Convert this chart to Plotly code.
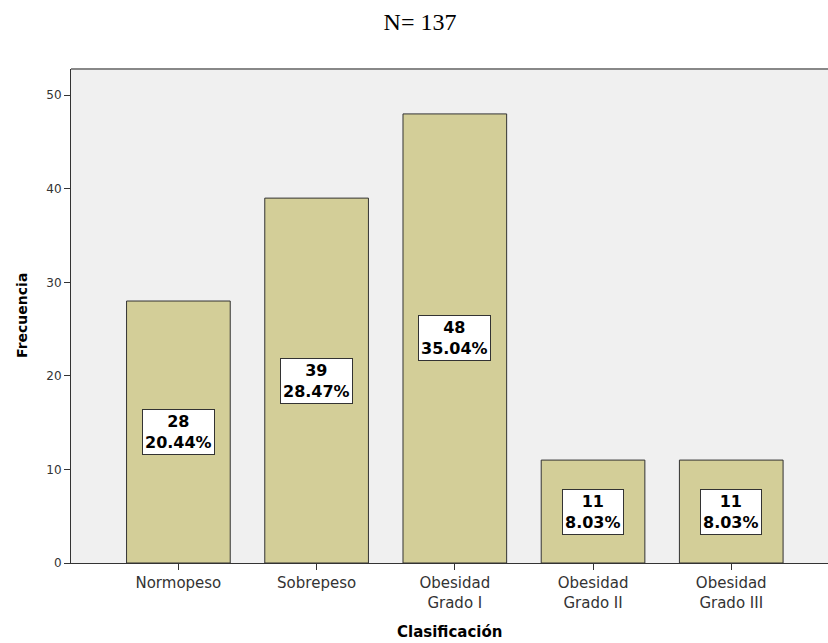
import plotly.graph_objects as go

# datos de clasificacion (N = 137)
categorias = ["Normopeso", "Sobrepeso", "Obesidad<br>Grado I", "Obesidad<br>Grado II", "Obesidad<br>Grado III"]
frecuencias = [28, 39, 48, 11, 11]
porcentajes = ["20.44%", "28.47%", "35.04%", "8.03%", "8.03%"]

fig = go.Figure()
fig.add_trace(go.Bar(
    x=categorias,
    y=frecuencias,
    width=0.75,
    marker=dict(color="#d3ce98", line=dict(color="#333333", width=1)),
    hoverinfo="skip",
))

# etiquetas en caja blanca a mitad de cada barra
for cat, f, p in zip(categorias, frecuencias, porcentajes):
    fig.add_annotation(
        x=cat, y=f / 2, xref="x", yref="y",
        text=f"{f}<br>{p}",
        showarrow=False,
        font=dict(family="DejaVu Sans", size=16, color="black", weight="bold"),
        bgcolor="white", bordercolor="#333333", borderwidth=1, borderpad=2,
    )

# titulos de ejes como anotaciones para fijar la posicion
fig.add_annotation(x=0.5, y=0, xref="paper", yref="paper", yshift=-69,
                   text="Clasificación", showarrow=False, yanchor="middle",
                   font=dict(family="DejaVu Sans", size=15, color="black", weight="bold"))
fig.add_annotation(x=0, y=0.5, xref="paper", yref="paper", xshift=-49,
                   text="Frecuencia", showarrow=False, textangle=-90, xanchor="center",
                   font=dict(family="DejaVu Sans", size=14, color="black", weight="bold"))

# borde superior del area de grafico
fig.add_shape(type="line", xref="paper", yref="paper", x0=0, x1=1, y0=1, y1=1,
              line=dict(color="#888888", width=2))

fig.update_layout(
    width=828, height=643,
    margin=dict(l=71, r=0, t=69, b=80),
    paper_bgcolor="white",
    plot_bgcolor="#f0f0f0",
    showlegend=False,
    title=dict(text="N= 137", x=420 / 828, xref="container", xanchor="center",
               y=1 - 22 / 643, yref="container", yanchor="middle",
               font=dict(family="Liberation Serif", size=24, color="black")),
    xaxis=dict(
        range=[-0.777, 4.70], automargin=False,
        showline=True, linecolor="#333333", linewidth=1,
        ticks="outside", ticklen=6, tickcolor="#333333",
        tickfont=dict(family="DejaVu Sans", size=15, color="#333333"),
        showgrid=False, zeroline=False,
    ),
    yaxis=dict(
        range=[0, 52.8], automargin=False,
        tickvals=[0, 10, 20, 30, 40, 50],
        showline=True, linecolor="#333333", linewidth=1,
        ticks="outside", ticklen=6, tickcolor="#333333",
        tickfont=dict(family="DejaVu Sans", size=12, color="#333333"),
        showgrid=False, zeroline=False,
    ),
)

# quitar el margen por defecto del body para que la figura llene la ventana
fig.write_html("out.html", config={"displayModeBar": False},
               post_script="document.body.style.margin='0';")
